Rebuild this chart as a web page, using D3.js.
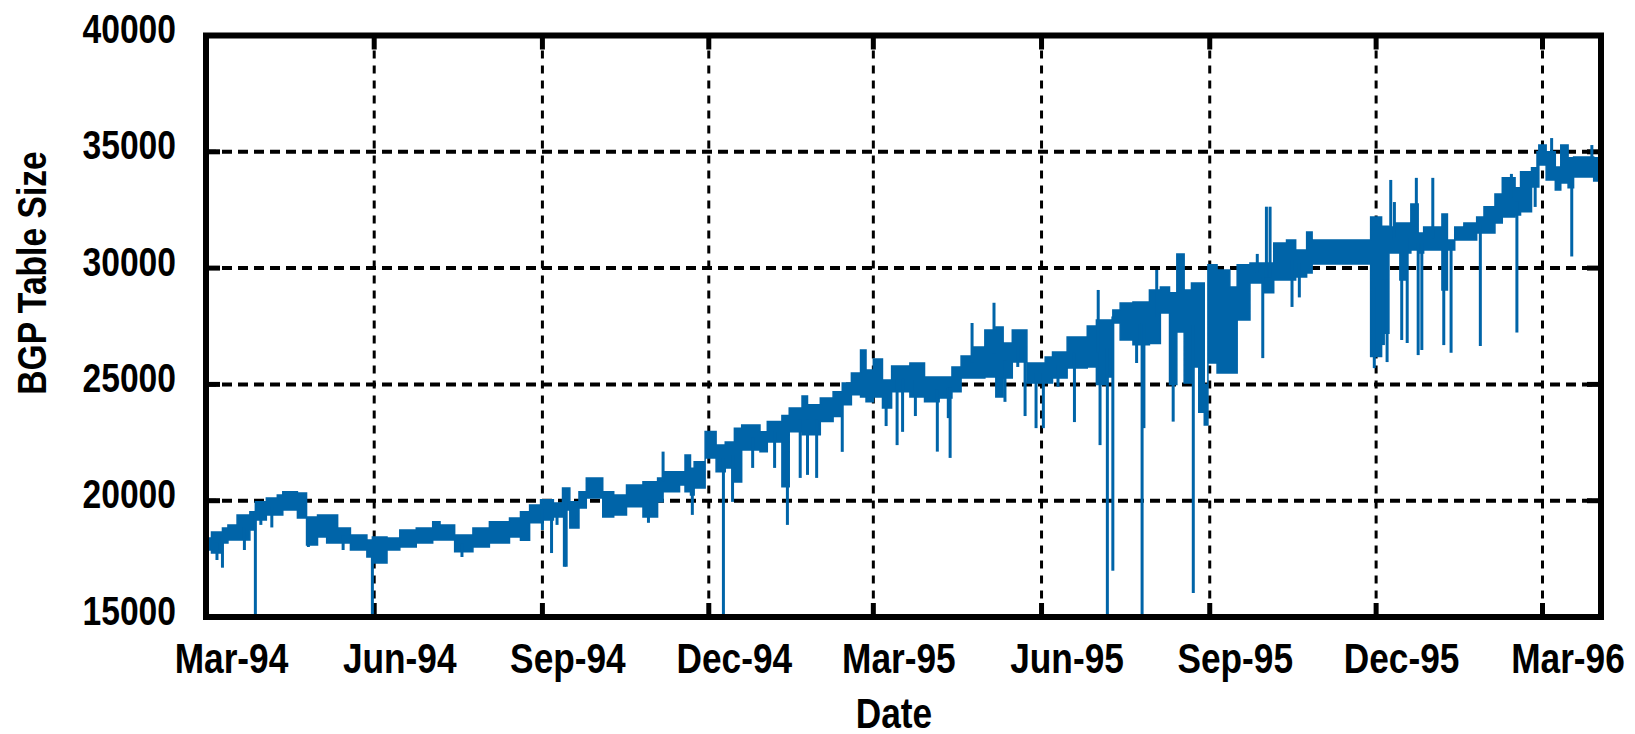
<!DOCTYPE html>
<html>
<head>
<meta charset="utf-8">
<script src="https://cdn.jsdelivr.net/npm/d3@7"></script>
<style>
  html, body { margin: 0; padding: 0; background: #fff; }
  svg { display: block; }
  .lbl { font-family: "Liberation Sans", Arial, "DejaVu Sans Condensed", sans-serif; font-weight: bold; fill: #000; }
</style>
</head>
<body>
<svg id="chart" width="1635" height="734"></svg>
<script>
// ---------- DATA ----------
// days since 1994-03-01
const startDate = "1994-03-01";
const endDay = 763;

const bandDay = [
  0, 3, 9, 12, 17, 24, 27, 33, 39, 42,
  50, 55, 61, 66, 72, 79, 88, 91, 99, 106,
  115, 124, 128, 136, 146, 155, 166, 172, 177, 183,
  190, 195, 199, 204, 208, 217, 223, 230, 239, 247,
  250, 259, 262, 265, 267, 273, 279, 284, 289, 293,
  303, 307, 315, 319, 326, 329, 336, 343, 348, 353,
  358, 361, 365, 370, 375, 385, 393, 401, 408, 413,
  419, 426, 432, 436, 441, 449, 459, 463, 471, 482,
  487, 493, 496, 500, 507, 516, 522, 527, 531, 535,
  539, 543, 546, 548, 553, 560, 564, 571, 578, 584,
  591, 596, 602, 605, 637, 643, 647, 650, 653, 657,
  659, 663, 666, 676, 679, 683, 688, 695, 699, 705,
  709, 716, 719, 725, 728, 729, 733, 738, 741, 745,
  748, 759, 763
];
const bandHi = [
  18400, 18650, 18830, 18960, 19380, 19520, 19950, 20120, 20250, 20380,
  20330, 19300, 19390, 19390, 18830, 18530, 18310, 18440, 18400, 18740,
  18830, 19100, 18960, 18530, 18830, 19100, 19260, 19520, 19820, 20040,
  19900, 20550, 19950, 20380, 20980, 20380, 20250, 20680, 20810, 20980,
  21240, 21240, 21970, 21400, 21670, 22970, 22400, 22520, 23120, 23250,
  22960, 23400, 23660, 23990, 24500, 24120, 24420, 24680, 25060, 25490,
  26480, 25620, 26090, 25190, 25790, 25920, 25320, 25320, 25750, 26220,
  26610, 27340, 27470, 26780, 27340, 25920, 26180, 26390, 27040, 27510,
  27770, 27770, 28200, 28500, 28540, 29060, 29190, 28940, 30610, 29060,
  29360, 29360, 25000, 30140, 29920, 29190, 30140, 30220, 30220, 31080,
  31210, 30780, 31550, 31210, 32200, 31800, 31770, 31940, 31940, 31940,
  32760, 31510, 31770, 32330, 31210, 31770, 31940, 32200, 32640, 33190,
  33880, 33450, 34140, 34310, 35000, 35290, 35000, 34350, 35290, 34740,
  34780, 34740, 34740
];
const bandLo = [
  17880, 17750, 18180, 18310, 18310, 18740, 19170, 19390, 19390, 19600,
  19260, 18100, 18440, 18180, 18180, 17880, 17580, 17320, 17880, 18010,
  18180, 18310, 18310, 17800, 18010, 18180, 18440, 18300, 19050, 19170,
  19300, 19600, 18830, 19690, 20120, 19300, 19390, 19740, 19300, 19950,
  20380, 20680, 20380, 20250, 20550, 21840, 21240, 21410, 20800, 22180,
  22100, 22520, 20600, 22960, 22830, 22830, 23400, 23620, 24120, 24550,
  24460, 24250, 24460, 23990, 24680, 24460, 24250, 24420, 24680, 25280,
  25280, 25320, 24460, 25280, 25960, 25060, 25060, 25280, 25700, 25750,
  25000, 25320, 27640, 26910, 26700, 26760, 28070, 25000, 27250, 25060,
  25750, 23800, 23250, 25920, 25490, 25490, 27770, 29360, 28940, 29490,
  29490, 29620, 29790, 30180, 26200, 27200, 30650, 30650, 29490, 30650,
  30780, 30650, 30780, 29060, 30780, 31210, 31210, 31510, 31510, 31940,
  32200, 32280, 32420, 33490, 33490, 34430, 33790, 33360, 33660, 33450,
  33920, 33750, 33750
];

// single-sample spikes (day, value)
const spikeDay = [
  0.5, 6, 9, 21, 27, 30, 36, 56, 75, 91,
  140, 184, 189, 192, 196, 197, 203, 242, 250, 266,
  283, 288, 299, 311, 318, 325, 329, 334, 348, 372,
  378, 381, 388, 400, 406, 407, 419, 431, 437, 444,
  448, 454, 458, 466, 475, 488, 489, 493, 496, 509,
  512, 513, 520, 529, 540, 575, 578, 580, 582, 594,
  598, 639, 644, 646, 648, 650, 654, 657, 662, 663,
  665, 671, 677, 681, 697, 714, 717, 727, 736, 747,
  758
];
const spikeVal = [
  15000, 17450, 17120, 17880, 15000, 18960, 18850, 18010, 17880, 15000,
  17580, 18740, 17750, 18960, 17160, 17160, 18830, 19050, 22110, 19390,
  15000, 19950, 21410, 21410, 18960, 20980, 21110, 20980, 22100, 23210,
  22390, 22960, 23640, 22110, 23550, 21840, 27640, 28510, 24250, 25750,
  23640, 23120, 23120, 24900, 23380, 29060, 22390, 15000, 16990, 25920,
  15000, 23120, 29920, 23400, 16030, 30610, 26130, 32640, 32640, 28330,
  28740, 25700, 26690, 25960, 33790, 32840, 26910, 26780, 33880, 26260,
  26480, 33880, 26690, 26360, 26650, 34050, 27230, 32630, 35590, 30500,
  35290
];

const yTicks = [15000, 20000, 25000, 30000, 35000, 40000];
const xTickDates = ["1994-03-01", "1994-06-01", "1994-09-01", "1994-12-01",
                    "1995-03-01", "1995-06-01", "1995-09-01", "1995-12-01", "1996-03-01"];
const xTickLabels = ["Mar-94", "Jun-94", "Sep-94", "Dec-94",
                     "Mar-95", "Jun-95", "Sep-95", "Dec-95", "Mar-96"];
const xTitle = "Date";
const yTitle = "BGP Table Size";

// ---------- CHART ----------
const BLUE = "#0064a8";
const NARROW = 0.82;   // condensed look of the original font
const svg = d3.select("#chart");
const L = 206, R = 1601, T = 35.5, B = 617;

const t0 = d3.utcParse("%Y-%m-%d")(startDate);
const dayToDate = d => new Date(t0.getTime() + d * 86400000);
const x = d3.scaleUtc().domain([t0, dayToDate(endDay)]).range([L, R]);
const y = d3.scaleLinear().domain([15000, 40000]).range([B, T]);

svg.append("rect").attr("width", 1635).attr("height", 734).attr("fill", "#fff");

// grid lines
const tickDates = xTickDates.map(d3.utcParse("%Y-%m-%d"));
const g = svg.append("g");
g.selectAll(".vg").data(tickDates.slice(1)).enter().append("line")
  .attr("x1", d => x(d)).attr("x2", d => x(d))
  .attr("y1", T).attr("y2", B)
  .attr("stroke", "#000").attr("stroke-width", 3).attr("stroke-dasharray", "8,7");
g.selectAll(".hg").data(yTicks.slice(1, -1)).enter().append("line")
  .attr("x1", L).attr("x2", R)
  .attr("y1", d => y(d)).attr("y2", d => y(d))
  .attr("stroke", "#000").attr("stroke-width", 4).attr("stroke-dasharray", "10,6");

// inward tick marks
const tk = 14;
g.selectAll(".vtb").data(tickDates.slice(1)).enter().append("line")
  .attr("x1", d => x(d)).attr("x2", d => x(d)).attr("y1", B).attr("y2", B - tk)
  .attr("stroke", "#000").attr("stroke-width", 5);
g.selectAll(".vtt").data(tickDates.slice(1)).enter().append("line")
  .attr("x1", d => x(d)).attr("x2", d => x(d)).attr("y1", T).attr("y2", T + tk)
  .attr("stroke", "#000").attr("stroke-width", 5);
g.selectAll(".htl").data(yTicks.slice(1, -1)).enter().append("line")
  .attr("x1", L).attr("x2", L + tk).attr("y1", d => y(d)).attr("y2", d => y(d))
  .attr("stroke", "#000").attr("stroke-width", 5);
g.selectAll(".htr").data(yTicks.slice(1, -1)).enter().append("line")
  .attr("x1", R).attr("x2", R - tk).attr("y1", d => y(d)).attr("y2", d => y(d))
  .attr("stroke", "#000").attr("stroke-width", 5);

// data band
const band = bandDay.map((d, i) => ({ t: dayToDate(d), hi: bandHi[i], lo: bandLo[i] }));
const area = d3.area().curve(d3.curveStepAfter)
  .x(d => x(d.t)).y0(d => y(d.lo)).y1(d => y(d.hi));
svg.append("path").datum(band).attr("d", area)
  .attr("fill", BLUE).attr("stroke", BLUE).attr("stroke-width", 1.5);

// spikes
const bis = d3.bisector(d => d).right;
const midAt = d => {
  const i = Math.max(0, bis(bandDay, d) - 1);
  return (bandHi[i] + bandLo[i]) / 2;
};
svg.append("g").selectAll("line").data(spikeDay.map((d, i) => ({ d, v: spikeVal[i] })))
  .enter().append("line")
  .attr("x1", s => x(dayToDate(s.d))).attr("x2", s => x(dayToDate(s.d)))
  .attr("y1", s => y(midAt(s.d))).attr("y2", s => y(s.v))
  .attr("stroke", BLUE).attr("stroke-width", 3);

// frame
svg.append("rect").attr("x", L).attr("y", T).attr("width", R - L).attr("height", B - T)
  .attr("fill", "none").attr("stroke", "#000").attr("stroke-width", 6);

// axes (labels)
const xAxis = d3.axisBottom(x).tickValues(tickDates)
  .tickFormat((d, i) => xTickLabels[i]).tickSize(0);
const gx = svg.append("g").attr("transform", `translate(0,${B})`).call(xAxis);
gx.select(".domain").remove();
gx.attr("font-family", null).attr("font-size", null);
gx.selectAll("text").attr("class", "lbl").attr("dy", null).attr("y", 0).attr("x", 0)
  .attr("transform", `translate(25,56) scale(${NARROW},1)`)
  .style("font-size", "43px").attr("text-anchor", "middle");

const yAxis = d3.axisLeft(y).tickValues(yTicks).tickFormat(d3.format("d")).tickSize(0);
const gy = svg.append("g").attr("transform", `translate(${L},0)`).call(yAxis);
gy.select(".domain").remove();
gy.attr("font-family", null).attr("font-size", null);
gy.selectAll("text").attr("class", "lbl").attr("dy", null).attr("y", 0).attr("x", 0)
  .attr("transform", `translate(-30,7) scale(${NARROW},1)`)
  .style("font-size", "41px").attr("text-anchor", "end");

svg.append("text").attr("class", "lbl")
  .attr("transform", `translate(894,728) scale(${NARROW},1)`)
  .attr("text-anchor", "middle").style("font-size", "43px").text(xTitle);
svg.append("text").attr("class", "lbl")
  .attr("transform", `translate(46,273) rotate(-90) scale(${NARROW},1)`)
  .attr("text-anchor", "middle").style("font-size", "41px").text(yTitle);
</script>
</body>
</html>
